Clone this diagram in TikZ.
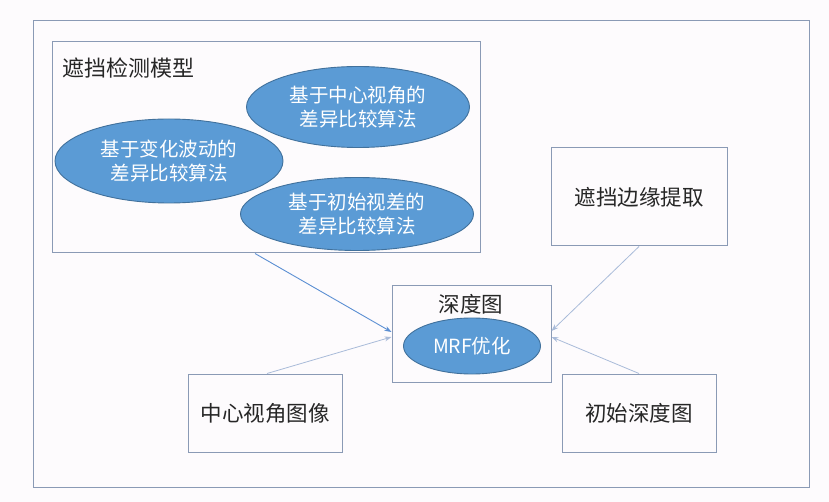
\documentclass[tikz,border=0pt]{standalone}
\usepackage{fontspec}
\setmainfont{Noto Sans CJK SC}
\usetikzlibrary{shapes.geometric,arrows.meta}
\definecolor{boxline}{HTML}{8A9AB5}
\definecolor{ellfill}{HTML}{5B9BD5}
\definecolor{elldraw}{HTML}{41719C}
\definecolor{arrA}{HTML}{5B8FD3}
\definecolor{arrB}{HTML}{A9BBD9}
\definecolor{bgc}{HTML}{FDFBFD}
\begin{document}
\begin{tikzpicture}[x=1pt,y=-1pt,
  frame/.style={draw=boxline,line width=1pt,inner sep=0pt},
  plainbox/.style={frame,font=\fontsize{21.5}{26}\selectfont,text=black!85},
  ell/.style={ellipse,draw=elldraw,line width=0.9pt,fill=ellfill,text=white,
    align=center,inner sep=0pt,font=\fontsize{19.5}{23.5}\selectfont},
  conA/.style={draw=arrA,line width=0.9pt,-{Stealth[length=7pt,width=5pt]}},
  conB/.style={draw=arrB,line width=0.8pt,-{Stealth[length=7pt,width=5pt]}}]
\fill[bgc] (0,0) rectangle (829,502);
\useasboundingbox (0,0) rectangle (829,502);
\node[frame,minimum width=776pt,minimum height=466pt] (outer) at (421,254) {};
% top-left model box
\node[frame,minimum width=428pt,minimum height=211pt] (tl) at (266,147.5) {};
\node[anchor=west,inner sep=0pt,font=\fontsize{22}{26}\selectfont,text=black!85] (tltitle) at (62,68) {遮挡检测模型};
\node[ell,minimum width=223pt,minimum height=81pt] (e1) at (358,107) {基于中心视角的\\差异比较算法};
\node[ell,minimum width=228pt,minimum height=84pt] (e2) at (169,161) {基于变化波动的\\差异比较算法};
\node[ell,minimum width=233pt,minimum height=73pt] (e3) at (357,214) {基于初始视差的\\差异比较算法};
% center box
\node[frame,minimum width=159pt,minimum height=96pt] (cb) at (471.5,334) {};
\node[inner sep=0pt,font=\fontsize{21.5}{26}\selectfont,text=black!85] (cbtitle) at (471,304) {深度图};
\node[ell,minimum width=137pt,minimum height=56pt] (mrf) at (472,346) {MRF优化};
% other boxes
\node[plainbox,minimum width=176pt,minimum height=98pt] (rb) at (639,197) {遮挡边缘提取};
\node[plainbox,minimum width=154pt,minimum height=78pt] (bl) at (265,413) {中心视角图像};
\node[plainbox,minimum width=154pt,minimum height=78pt] (br) at (639,413) {初始深度图};
% connectors
\draw[conA] ([xshift=-11pt]tl.south) -- ([yshift=2pt]cb.west);
\draw[conB] ([xshift=2pt]bl.north) -- ([yshift=-3pt]cb.west);
\draw[conB] (rb.south) -- ([yshift=3pt]cb.east);
\draw[conB] (br.north) -- ([yshift=-3pt]cb.east);
\end{tikzpicture}
\end{document}
